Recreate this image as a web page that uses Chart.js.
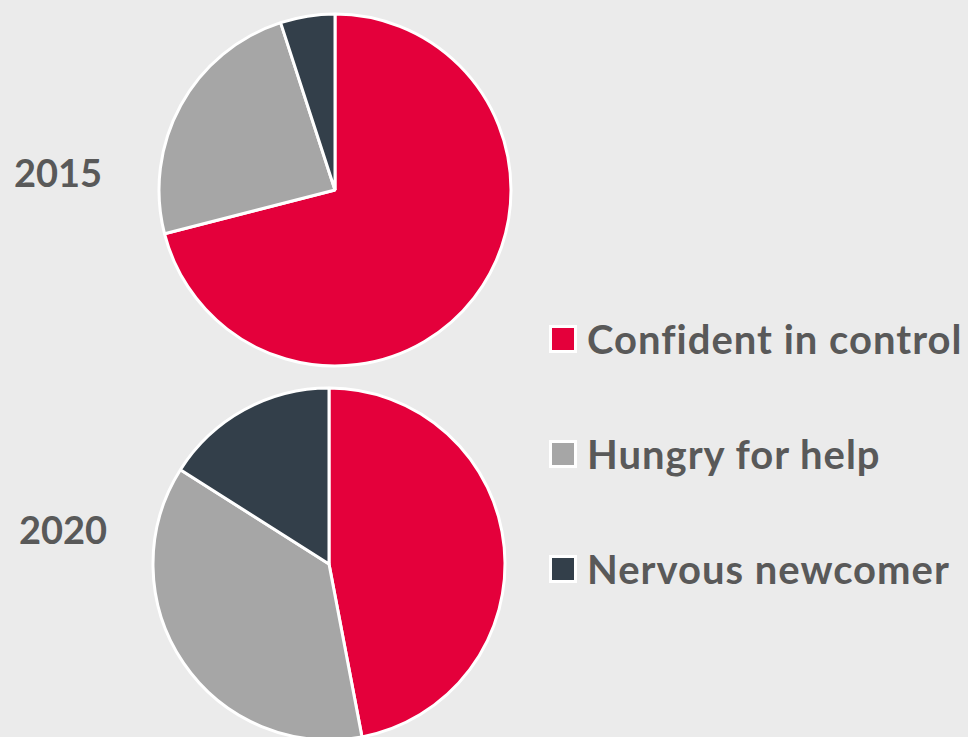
<!DOCTYPE html>
<html>
<head>
<meta charset="utf-8">
<script src="https://cdn.jsdelivr.net/npm/chart.js@4.4.1/dist/chart.umd.min.js"></script>
<style>
  html, body {
    margin: 0;
    padding: 0;
    width: 968px;
    height: 737px;
    overflow: hidden;
    background: #ebebeb;
    font-family: "Lato", "Open Sans", sans-serif;
  }
  .pie {
    position: absolute;
    width: 360px;
    height: 360px;
  }
  .year {
    position: absolute;
    font-weight: 700;
    font-size: 38px;
    color: #595959;
    line-height: 1;
  }
  #legend {
    position: absolute;
    left: 549px;
    top: 0;
  }
  .item {
    position: absolute;
    left: 0;
    display: flex;
    align-items: center;
    white-space: nowrap;
    font-weight: 700;
    font-size: 40px;
    letter-spacing: 1px;
    color: #595959;
    transform: translateY(-50%);
  }
  .box {
    width: 22px;
    height: 22px;
    border: 3px solid #fff;
    margin-right: 10px;
  }
</style>
</head>
<body>
<div class="pie" style="left:155px; top:10px;"><canvas id="pie2015"></canvas></div>
<div class="pie" style="left:149px; top:384px;"><canvas id="pie2020"></canvas></div>
<div class="year" style="left:14px; top:153px;">2015</div>
<div class="year" style="left:19px; top:510px;">2020</div>
<div id="legend"></div>

<script>
const categories = ["Confident in control", "Hungry for help", "Nervous newcomer"];
const years = ["2015", "2020"];
const values2015 = [71, 24, 5];
const values2020 = [47, 37, 16];
const colors = ["#e4003b", "#a6a6a6", "#333f4a"];

function makePie(canvasId, values) {
  const ctx = document.getElementById(canvasId).getContext("2d");
  return new Chart(ctx, {
    type: "pie",
    data: {
      labels: categories,
      datasets: [
        {
          data: values,
          backgroundColor: colors,
          borderColor: "#fff",
          borderWidth: 3,
        },
      ],
    },
    options: {
      responsive: true,
      maintainAspectRatio: false,
      animation: false,
      radius: 176,
      layout: { padding: 0 },
      plugins: {
        legend: { display: false },
        tooltip: { enabled: false },
      },
    },
  });
}

makePie("pie2015", values2015);
makePie("pie2020", values2020);

// shared legend on the right
const legend = document.getElementById("legend");
const rowY = [339, 454, 569];
categories.forEach((name, i) => {
  const item = document.createElement("div");
  item.className = "item";
  item.style.top = rowY[i] + "px";
  const box = document.createElement("span");
  box.className = "box";
  box.style.background = colors[i];
  item.appendChild(box);
  item.appendChild(document.createTextNode(name));
  legend.appendChild(item);
});
</script>
</body>
</html>
